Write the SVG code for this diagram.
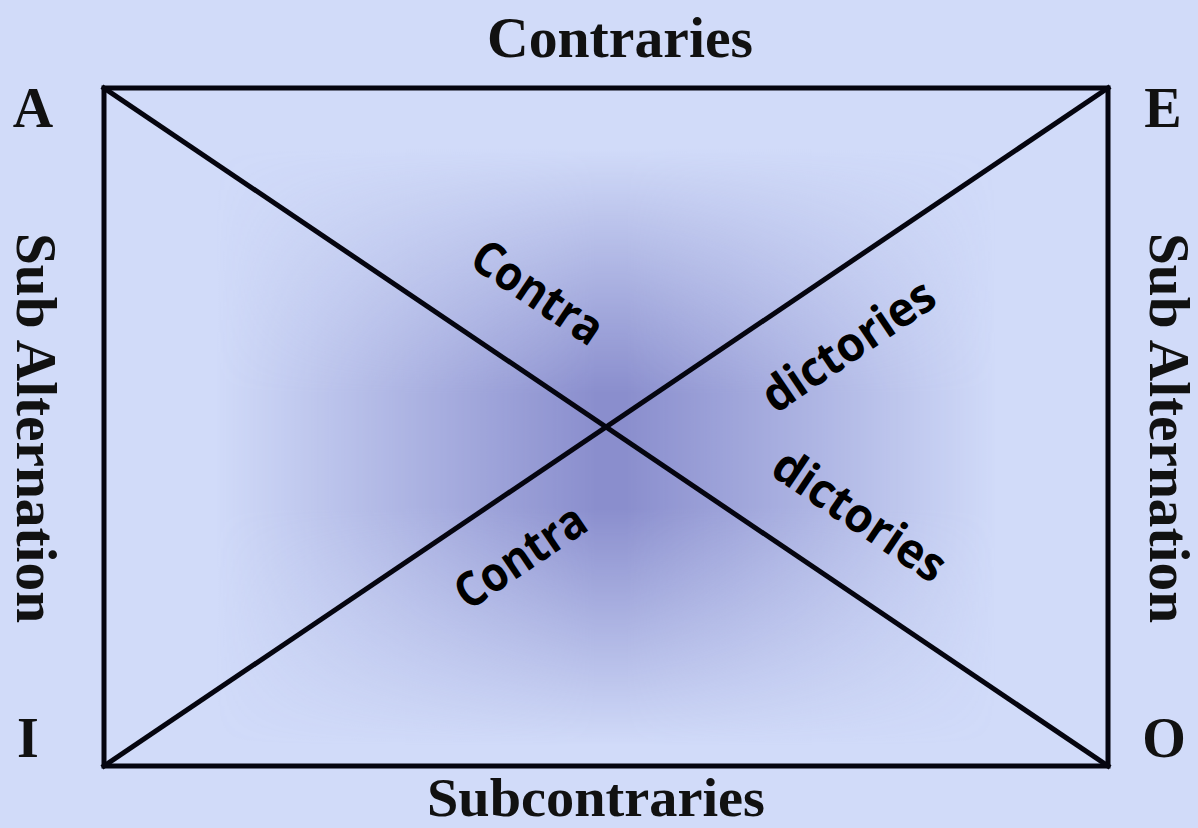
<svg xmlns="http://www.w3.org/2000/svg" width="1198" height="828" viewBox="0 0 1198 828">
  <defs>
    <linearGradient id="hTent" gradientUnits="userSpaceOnUse" x1="104" y1="0" x2="1108" y2="0">
      <stop offset="0" stop-color="#fff" stop-opacity="0"/>
      <stop offset="0.11" stop-color="#fff" stop-opacity="0"/>
      <stop offset="0.49" stop-color="#fff" stop-opacity="1"/>
      <stop offset="0.52" stop-color="#fff" stop-opacity="1"/>
      <stop offset="0.89" stop-color="#fff" stop-opacity="0"/>
      <stop offset="1" stop-color="#fff" stop-opacity="0"/>
    </linearGradient>
    <linearGradient id="vTent" gradientUnits="userSpaceOnUse" x1="0" y1="88" x2="0" y2="766">
      <stop offset="0" stop-color="#fff" stop-opacity="0"/>
      <stop offset="0.09" stop-color="#fff" stop-opacity="0"/>
      <stop offset="0.45" stop-color="#fff" stop-opacity="1"/>
      <stop offset="0.62" stop-color="#fff" stop-opacity="1"/>
      <stop offset="0.97" stop-color="#fff" stop-opacity="0"/>
      <stop offset="1" stop-color="#fff" stop-opacity="0"/>
    </linearGradient>
    <mask id="mH" maskUnits="userSpaceOnUse" x="0" y="0" width="1198" height="828">
      <rect x="104" y="88" width="1004" height="678" fill="url(#hTent)"/>
    </mask>
    <mask id="mV" maskUnits="userSpaceOnUse" x="0" y="0" width="1198" height="828">
      <rect x="104" y="88" width="1004" height="678" fill="url(#vTent)"/>
    </mask>
    <style>
      .serif { font-family: "Liberation Serif", "Times New Roman", serif; font-weight: bold; font-size: 56px; fill: #111; }
      .sans { font-family: "Open Sans", "Noto Sans", sans-serif; font-weight: bold; font-size: 48px; fill: #000; }
      .edge { stroke: #05050f; stroke-width: 5; fill: none; stroke-linecap: square; }
    </style>
  </defs>

  <rect x="0" y="0" width="1198" height="828" fill="#D1DBF9"/>

  <g id="shade" mask="url(#mV)">
    <rect x="104" y="88" width="1004" height="678" fill="#8A8ECD" mask="url(#mH)"/>
  </g>

  <g id="connectors">
    <rect class="edge" x="104" y="88" width="1004" height="678"/>
    <line class="edge" x1="104" y1="88" x2="1108" y2="766"/>
    <line class="edge" x1="1108" y1="88" x2="104" y2="766"/>
  </g>

  <g id="node-A"><text class="serif" x="33" y="127" text-anchor="middle">A</text></g>
  <g id="node-E"><text class="serif" x="1163" y="127" text-anchor="middle">E</text></g>
  <g id="node-I"><text class="serif" x="28" y="757" text-anchor="middle">I</text></g>
  <g id="node-O"><text class="serif" x="1164" y="757" text-anchor="middle">O</text></g>

  <g id="label-contraries"><text class="serif" x="620" y="57" text-anchor="middle" textLength="266" lengthAdjust="spacingAndGlyphs">Contraries</text></g>
  <g id="label-subcontraries"><text class="serif" x="596" y="816" text-anchor="middle" textLength="338" lengthAdjust="spacingAndGlyphs" style="font-size:54px">Subcontraries</text></g>
  <g id="label-subalt-left"><text class="serif" transform="translate(17,428) rotate(90)" x="0" y="0" text-anchor="middle" textLength="390" lengthAdjust="spacingAndGlyphs">Sub Alternation</text></g>
  <g id="label-subalt-right"><text class="serif" transform="translate(1150,428) rotate(90)" x="0" y="0" text-anchor="middle" textLength="390" lengthAdjust="spacingAndGlyphs">Sub Alternation</text></g>

  <g id="label-contra-upper"><text class="sans" transform="translate(538,292) rotate(34)" x="0" y="17" text-anchor="middle" textLength="148" lengthAdjust="spacingAndGlyphs">Contra</text></g>
  <g id="label-dictories-upper"><text class="sans" transform="translate(848,345) rotate(-34)" x="0" y="17" text-anchor="middle" textLength="198" lengthAdjust="spacingAndGlyphs">dictories</text></g>
  <g id="label-contra-lower"><text class="sans" transform="translate(520,556) rotate(-34)" x="0" y="17" text-anchor="middle" textLength="148" lengthAdjust="spacingAndGlyphs">Contra</text></g>
  <g id="label-dictories-lower"><text class="sans" transform="translate(860,515) rotate(34)" x="0" y="17" text-anchor="middle" textLength="198" lengthAdjust="spacingAndGlyphs">dictories</text></g>
</svg>
